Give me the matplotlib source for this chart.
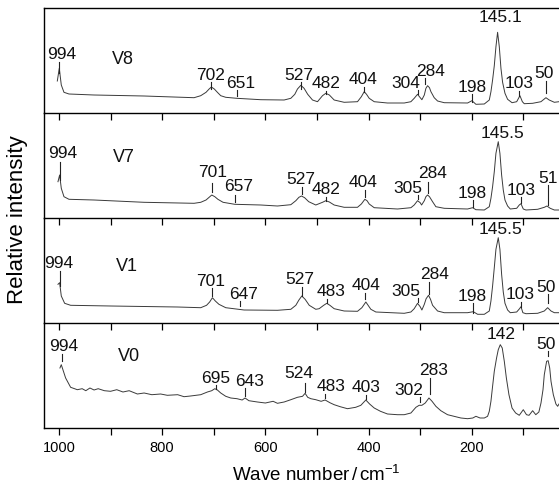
import matplotlib
matplotlib.use("Agg")
import matplotlib.pyplot as plt
from matplotlib.ticker import MultipleLocator

plt.rcParams['font.family'] = ['Liberation Sans', 'DejaVu Sans']
plt.rcParams['mathtext.fontset'] = 'custom'
plt.rcParams['mathtext.rm'] = 'Liberation Sans'
plt.rcParams['mathtext.it'] = 'Liberation Sans'

# ---------------- data (wave number, relative intensity) ----------------
sample_names = ["V8", "V7", "V1", "V0"]

v8_x = [1003.2, 999.4, 995.5, 990.3, 980.6, 932.1, 835.2, 738.2, 725.3, 715, 709, 704.6, 699, 693, 686.5,
        676.8, 655.5, 608.9, 563.7, 550.7, 543, 537.8, 531.3, 525, 518, 508.7, 499.0, 489.3, 482.9, 476,
        466.7, 447.3, 421.5, 414, 408.5, 404, 398.8, 389.1, 363.3, 330.9, 318.0, 311.6, 305.1, 299.9,
        296.7, 292, 288.9, 285.7, 282, 279.2, 272.8, 266.3, 253.4, 208.2, 199.7, 192.0, 175.8, 166.1,
        162.9, 159.7, 156.4, 153.2, 150, 146.7, 143.5, 140.3, 135.7, 130.6, 122, 113, 106.7, 102, 98.3,
        82.1, 66, 59.5, 56.3, 50, 40.0, 31]
v8_y = [32, 44.7, 28, 20.7, 19, 18, 17, 15.3, 17.3, 20.7, 24, 26, 24, 20.7, 17.3,
        15.7, 14.7, 13.3, 13, 14.7, 18.7, 24, 27.7, 24.7, 18.7, 13, 11.3, 17.3, 19.7, 18,
        13, 10.7, 11.3, 16.3, 21.3, 18.7, 14.7, 11.3, 10, 10, 11.3, 14.7, 18.7, 15.3,
        13.3, 18, 24.7, 27.3, 25.3, 21.3, 15.3, 12, 10.3, 10, 12.3, 8.7, 9, 13,
        21.3, 33, 47.3, 66.3, 80.7, 66.3, 44.7, 30.7, 19.7, 13.7, 10.3, 11.3, 17.3, 11.3, 9.3,
        9.7, 11.3, 14, 15.3, 13, 10.7, 11.3]

v7_x = [1001.9, 998.7, 995.5, 990.3, 980.6, 932.1, 835.2, 738.2, 725.3, 715, 709, 703.9, 698, 692, 682,
        659.3, 608.9, 576.6, 550.7, 541, 535, 530, 524, 516, 502.3, 489.3, 482.9, 476, 466.7, 447.3,
        421.5, 414, 407.2, 403, 398.8, 389.1, 343.9, 318.0, 311.6, 305.1, 300, 297.3, 292, 288.9,
        285.7, 282, 276.0, 269.6, 253.4, 208.2, 198.4, 192.0, 175.8, 166.1, 162.9, 159.7, 156.4,
        153.2, 148.7, 145.5, 142.2, 139, 135.7, 130.6, 125.4, 113, 108, 104.7, 100.2, 95.0, 72.4,
        59.5, 54.3, 48, 40.0, 31]
v7_y = [36.3, 43, 29.7, 21.3, 18.7, 18, 15.7, 14.7, 15.7, 18, 20.7, 23, 21.3, 18.7, 15.7,
        13.7, 13, 12, 13.3, 17.3, 20.7, 22, 20.3, 16.3, 13, 15.7, 17.3, 16, 13, 10.7,
        10.7, 14, 18.7, 17.3, 14, 10.3, 9, 10.3, 13, 17.3, 15.3, 13, 17.3, 21.3,
        23, 21.3, 16.3, 11.3, 9.7, 9, 10.3, 8.3, 8, 11.3, 19.7, 31.3, 46.3,
        64.7, 76.3, 64.7, 43, 28, 18, 12, 9, 9.7, 13, 14.3, 9, 8, 8.7,
        10.7, 12, 9.7, 8, 8]

v1_x = [1001.9, 998.7, 995.5, 989, 977.4, 899.8, 770.5, 725.3, 714, 708, 702.6, 697, 690, 676.8, 641.2,
        576.6, 550.7, 541, 535, 529.4, 523, 515, 502.3, 495.8, 487, 481, 475, 466.7, 447.3, 421.5,
        413, 405.3, 400, 395.6, 385.9, 330.9, 318.0, 311.6, 305.1, 300, 296.7, 292, 288.5, 283.8,
        280, 276.0, 266.3, 253.4, 208.2, 197.1, 188.7, 175.8, 166.1, 162.9, 159.7, 156.4, 153.2,
        148.7, 145.5, 142.2, 139, 135.7, 130.6, 125.4, 113, 107.5, 104.7, 101, 95.0, 72.4, 59.5,
        53.0, 46.5, 40.0, 31]
v1_y = [38.7, 40.3, 27, 19.7, 17.7, 17, 16, 15.3, 17.7, 21, 25.3, 22, 18.7, 15.3, 13,
        12.7, 13.7, 17.7, 23, 27, 23.7, 17.7, 13.7, 14.3, 17.7, 19.7, 17.7, 14.3, 12, 11.7,
        15.3, 21, 17, 13.7, 11, 9.7, 11, 14.3, 19.7, 16.3, 13, 18.7, 24.3, 27.7,
        23.7, 17.7, 12, 10.3, 10.3, 11.3, 8.7, 8.7, 12, 22, 37, 55.3, 73.7,
        85.3, 73.7, 48.7, 31, 19.7, 13, 10.3, 11, 14.3, 16.3, 10.3, 9.3, 9.7, 12,
        15.3, 12, 10.3, 10.3]

v0_x = [998.1, 995.5, 987.1, 977.4, 964.4, 955, 948, 940, 932, 924, 912, 900, 888, 876, 864, 848, 835,
        820, 803, 790, 770, 757.6, 745, 725.3, 712.3, 704, 698, 693, 686.5, 676.8, 667.1, 655, 645,
        639.3, 632, 615.4, 600, 585, 576.6, 563.7, 550.7, 537.8, 528, 523, 518, 511.9, 502.3, 492,
        484.2, 475, 466.7, 455, 440.9, 425, 415, 405.3, 398, 389.1, 377, 363.3, 343.9, 330.9, 318.0,
        308.3, 302, 296.7, 290.2, 283, 277, 269.6, 260, 247, 221.1, 208.2, 198, 192.0, 184, 175.8,
        169.4, 166.1, 162.9, 159.7, 156.4, 152, 148.7, 144.8, 141, 137, 133, 128, 122, 115, 108,
        100.2, 94, 89, 82.1, 76, 70, 65.9, 62, 59.5, 55, 52, 49, 46.5, 42, 37, 33.6, 31]
v0_y = [60, 63.3, 50, 40.7, 38.3, 39.3, 37.3, 40, 38, 39.3, 37.3, 36.7, 38.3, 36, 37.3, 34, 35,
        33.3, 34, 32.7, 33.3, 31.3, 32, 33.3, 36, 37.3, 39.3, 38, 35, 31.7, 30, 29.3, 28,
        30, 27.3, 26, 25, 26.7, 24.7, 26, 28.3, 30.7, 31.7, 34.7, 30.7, 29.3, 28.3, 26.7,
        28, 25.3, 23.3, 21.3, 19.3, 20.7, 22.7, 28, 24, 20, 16.7, 14, 13.3, 13.3, 15,
        20.7, 22.7, 22.7, 25, 30, 26.7, 21.7, 17.3, 13.3, 10, 9.3, 10, 11.7, 10, 10,
        11.7, 16.7, 26.7, 41.7, 56.7, 70, 78.3, 83.3, 80, 66.7, 50, 33.3, 20, 15, 12.7,
        18.3, 13.3, 12.7, 17.3, 13.3, 16, 25, 38.3, 53.3, 66.7, 67.3, 60, 46.7, 33.3, 24, 21.7, 24]

spectra_x = [v8_x, v7_x, v1_x, v0_x]
spectra_y = [v8_y, v7_y, v1_y, v0_y]

# peak labels (text) per panel
peak_labels = [
    ["994", "702", "651", "527", "482", "404", "304", "284", "198", "145.1", "103", "50"],
    ["994", "701", "657", "527", "482", "404", "305", "284", "198", "145.5", "103", "51"],
    ["994", "701", "647", "527", "483", "404", "305", "284", "198", "145.5", "103", "50"],
    ["994", "695", "643", "524", "483", "403", "302", "283", "142", "50"],
]

# ---------------- annotation layout (text x, text baseline, tick x, tick bottom, tick top) -------------
label_layout = [
    [(994.2, 53.7, 1000, 39.7, 51.3), (705.9, 33, 704.6, 24, 30.7), (647.7, 24.7, 655.5, 17.3, 23),
     (534.6, 33, 531.3, 24, 30.7), (482.9, 24.7, 482.9, 19.3, 22.3), (409.8, 28.7, 408.5, 20.7, 26.3),
     (327.7, 24.7, 305.1, 18.7, 23), (279.2, 37.3, 290.2, 28.7, 35.3), (199.7, 20.7, 199.7, 11.3, 18.7),
     (143.5, 91.3, None, None, None), (107.9, 24.7, 107.9, 17.3, 22), (59.5, 34.7, 56.3, 19.7, 32)],
    [(993.5, 59.7, 998.1, 38, 56.3), (702.6, 41.3, 703.9, 26.3, 34.7), (650.9, 27, 659.3, 16.3, 23),
     (531.3, 34, 530, 24, 31.3), (482.9, 23.7, 482.9, 17.3, 20.7), (410.5, 30.7, 407.2, 20.7, 28),
     (324.5, 24.7, 305.1, 18.7, 23), (276, 39.7, 285.7, 25.3, 36.3), (198.4, 19.7, 198.4, 10.7, 18),
     (140.3, 79.7, None, None, None), (104.7, 23, 104.7, 15.3, 20.7), (51.7, 34.7, 53, 13, 33)],
    [(1000, 55.3, 998.1, 37, 52), (705.9, 37, 702.6, 27, 35.3), (642.5, 23.7, 649.6, 17, 22),
     (532.6, 38.7, 528.1, 27, 36), (473.2, 27, 481, 19.7, 24.3), (405.3, 33, 406.6, 23.7, 30.3),
     (327.7, 27, 305.1, 21, 25.3), (272.8, 43.7, 283.8, 28.7, 41), (198.4, 22, 197.1, 10.3, 19.7),
     (143.5, 88.7, None, None, None), (106, 24.3, 104.7, 16.3, 21), (56.3, 31, 53, 19.7, 28.7)],
    [(991.6, 77.3, 993.5, 66.7, 74), (696.2, 45, 696.2, 39.3, 43.3), (631.5, 41.7, 639.3, 31.7, 40),
     (534.6, 50, 522.9, 36, 45), (473.2, 37.3, 484.2, 30, 34), (405.3, 36, 405.3, 29.3, 33.3),
     (321.3, 32.7, 299.9, 26, 30.7), (274.1, 52.7, 280.5, 34, 50), (143.5, 89.3, None, None, None),
     (56.3, 79.3, 53, 71.7, 76.7)],
]
name_layout = [(875.9, 48.7), (874, 56.3), (867.5, 52), (864.3, 66.7)]

W, H = 559, 488
fig = plt.figure(figsize=(W / 100, H / 100), dpi=100)
left = 44 / W
width = 1 - left
panel_tops = [8, 113, 218, 323]
ph = 105

axes = []
for i in range(4):
    bottom = (H - (panel_tops[i] + ph)) / H
    ax = fig.add_axes([left, bottom, width, ph / H])
    ax.set_facecolor('none')
    ax.plot(spectra_x[i], spectra_y[i], color='#3a3a3a', lw=0.7)
    ax.set_xlim(1029, 31)
    ax.set_ylim(0, 105)
    ax.set_yticks([])
    ax.spines['right'].set_visible(False)
    for s in ['left', 'top', 'bottom']:
        ax.spines[s].set_linewidth(1.0)
    if i > 0:
        ax.spines['top'].set_visible(False)
    ax.xaxis.set_major_locator(MultipleLocator(200))
    ax.xaxis.set_minor_locator(MultipleLocator(100))
    ax.tick_params(axis='x', which='both', direction='out', length=5, width=0.9, pad=4,
                   labelsize=10.5)
    if i < 3:
        ax.tick_params(axis='x', which='both', labelbottom=False)
    for txt, (tx, ty, mx, m0, m1) in zip(peak_labels[i], label_layout[i]):
        ax.text(tx, ty, txt, ha='center', va='baseline', fontsize=12.5, color='#111111')
        if mx is not None:
            ax.plot([mx, mx], [m0, m1], color='#222222', lw=0.8)
    nx, ny = name_layout[i]
    ax.text(nx, ny, sample_names[i], ha='center', va='baseline', fontsize=13, color='#111111')
    axes.append(ax)

fig.text(316 / W, 1 - 481 / H, r'Wave number$\,$/$\,$cm$^{-1}$', ha='center', va='baseline',
         fontsize=13.5)
fig.text(18 / W, 1 - 220 / H, 'Relative intensity', ha='center', va='center', rotation=90,
         fontsize=16)

fig.savefig('out.png', dpi=100)
